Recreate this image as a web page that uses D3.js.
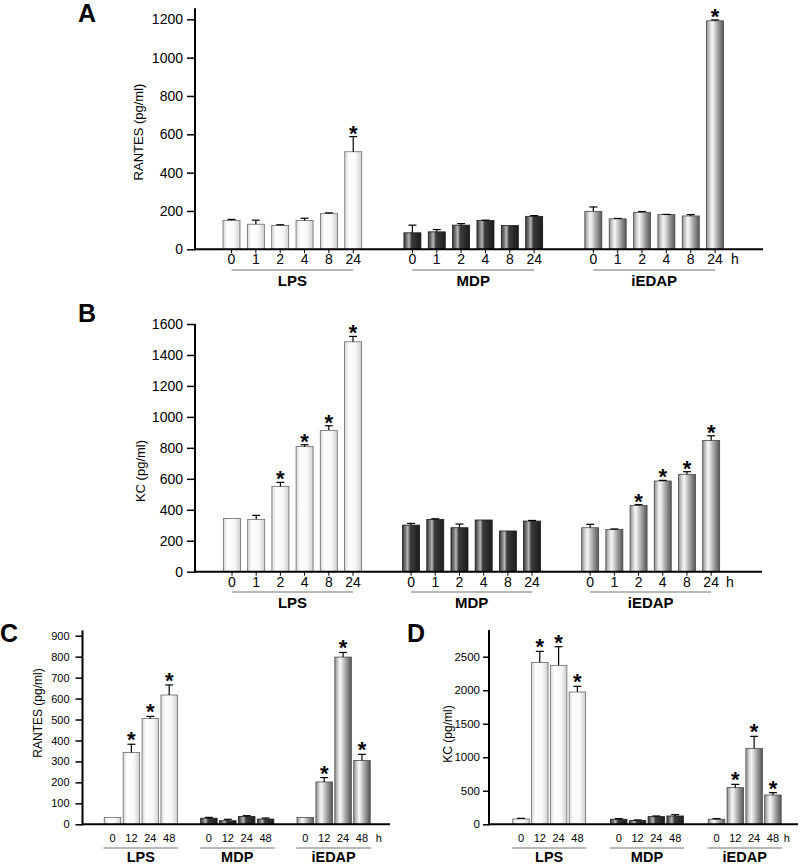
<!DOCTYPE html>
<html><head><meta charset="utf-8">
<script src="https://cdn.jsdelivr.net/npm/d3@7"></script>
<style>
body{margin:0;background:#fff}
svg{display:block}
text{font-family:"Liberation Sans",Arial,Helvetica,sans-serif;fill:#000}
</style>
</head><body>
<svg id="chart" width="800" height="867"></svg>
<script>
// ---------- data ----------
const groups = ["LPS", "MDP", "iEDAP"];
const hoursAB = ["0", "1", "2", "4", "8", "24"];
const hoursCD = ["0", "12", "24", "48"];

// Panel A: RANTES (pg/ml), time course 0-24 h
const rantesA    = [[150, 131, 124, 150, 186, 509], [86, 91, 126, 150, 124, 172], [198, 159, 193, 181, 174, 1192]];
const rantesAErr = [[6, 21, 4, 12, 4, 79], [40, 12, 8, 2, 0, 4], [23, 2, 4, 1, 7, 5]];
const rantesASig = [[0, 0, 0, 0, 0, 1], [0, 0, 0, 0, 0, 0], [0, 0, 0, 0, 0, 1]];
const ticksA = [0, 200, 400, 600, 800, 1000, 1200];

// Panel B: KC (pg/ml), time course 0-24 h
const kcB    = [[344, 338, 551, 809, 913, 1485], [301, 338, 284, 334, 263, 327], [284, 273, 428, 586, 629, 848]];
const kcBErr = [[0, 26, 26, 11, 30, 35], [11, 4, 24, 0, 0, 4], [22, 3, 5, 4, 17, 30]];
const kcBSig = [[0, 0, 1, 1, 1, 1], [0, 0, 0, 0, 0, 0], [0, 0, 1, 1, 1, 1]];
const ticksB = [0, 200, 400, 600, 800, 1000, 1200, 1400, 1600];

// Panel C: RANTES (pg/ml), 0-48 h
const rantesC    = [[33, 343, 505, 617], [29, 17, 37, 25], [32, 202, 798, 304]];
const rantesCErr = [[0, 39, 10, 48], [4, 7, 4, 5], [0, 21, 22, 30]];
const rantesCSig = [[0, 1, 1, 1], [0, 0, 0, 0], [0, 1, 1, 1]];
const ticksC = [0, 100, 200, 300, 400, 500, 600, 700, 800, 900];

// Panel D: KC (pg/ml), 0-48 h
const kcD    = [[80, 2415, 2371, 1973], [75, 55, 114, 124], [75, 547, 1133, 437]];
const kcDErr = [[9, 165, 278, 85], [10, 10, 10, 20], [10, 49, 179, 35]];
const kcDSig = [[0, 1, 1, 1], [0, 0, 0, 0], [0, 1, 1, 1]];
const ticksD = [0, 500, 1000, 1500, 2000, 2500];

// ---------- drawing ----------
const svg = d3.select("#chart");
const defs = svg.append("defs");
function grad(id, stops) {
  const g = defs.append("linearGradient").attr("id", id)
    .attr("x1", "0%").attr("x2", "100%").attr("y1", "0%").attr("y2", "0%");
  stops.forEach(s => g.append("stop").attr("offset", s[0]).attr("stop-color", s[1]));
}
grad("gLPS", [["0%", "#d6d6d6"], ["25%", "#ffffff"], ["65%", "#f8f8f8"], ["100%", "#cfcfcf"]]);
grad("gMDP", [["0%", "#3a3a3a"], ["18%", "#7e7e7e"], ["30%", "#b8b8b8"], ["45%", "#3c3c3c"], ["100%", "#1c1c1c"]]);
grad("gIE",  [["0%", "#8e8e8e"], ["25%", "#e6e6e6"], ["35%", "#f4f4f4"], ["65%", "#a6a6a6"], ["100%", "#555555"]]);
const fills = ["url(#gLPS)", "url(#gMDP)", "url(#gIE)"];
const strokes = ["#6a6a6a", "#1a1a1a", "#4a4a4a"];

function panel(cfg, means, errs, sig, hours, ticks) {
  const g = svg.append("g");
  const x = d3.scaleLinear().domain([0, 1]).range([cfg.x0, cfg.x0 + cfg.step]);
  const slot = (gi, i) => gi * cfg.gStep + i;
  const y = d3.scaleLinear().domain([0, cfg.topVal]).range([cfg.yBase, cfg.yTop]);

  const data = [];
  means.forEach((row, gi) => row.forEach((v, i) => data.push({gi, i, v, e: errs[gi][i], s: sig[gi][i]})));

  // bars
  g.selectAll("rect.bar").data(data).join("rect").attr("class", "bar")
    .attr("x", d => x(slot(d.gi, d.i)) - cfg.barW / 2)
    .attr("y", d => y(d.v))
    .attr("width", cfg.barW)
    .attr("height", d => y(0) - y(d.v))
    .attr("fill", d => fills[d.gi])
    .attr("stroke", d => strokes[d.gi])
    .attr("stroke-width", 0.8);

  // error bars
  const ed = data.filter(d => d.e > 0);
  g.selectAll("line.err").data(ed).join("line").attr("class", "err")
    .attr("x1", d => x(slot(d.gi, d.i))).attr("x2", d => x(slot(d.gi, d.i)))
    .attr("y1", d => y(d.v)).attr("y2", d => y(d.v + d.e))
    .attr("stroke", "#000").attr("stroke-width", 1.2);
  g.selectAll("line.cap").data(ed).join("line").attr("class", "cap")
    .attr("x1", d => x(slot(d.gi, d.i)) - cfg.cap).attr("x2", d => x(slot(d.gi, d.i)) + cfg.cap)
    .attr("y1", d => y(d.v + d.e)).attr("y2", d => y(d.v + d.e))
    .attr("stroke", "#000").attr("stroke-width", 1.2);

  // asterisks
  g.selectAll("text.star").data(data.filter(d => d.s)).join("text").attr("class", "star")
    .attr("x", d => x(slot(d.gi, d.i)))
    .attr("y", d => y(d.v + d.e) + cfg.starOff)
    .attr("text-anchor", "middle")
    .attr("font-size", cfg.starSize).attr("font-weight", "bold")
    .text("*");

  // y axis
  const ax = g.append("g").attr("transform", `translate(${cfg.axisX},0)`)
    .call(d3.axisLeft(y).tickValues(ticks).tickSize(cfg.tickLen).tickPadding(cfg.tickPad).tickFormat(d3.format("d")));
  ax.select(".domain").remove();
  ax.selectAll(".tick line").attr("stroke", "#000").attr("stroke-width", 1.5);
  ax.selectAll(".tick text").attr("font-size", cfg.tickFont).attr("font-family", '"Liberation Sans",Arial,sans-serif').attr("fill", "#000");

  g.append("line").attr("x1", cfg.axisX).attr("x2", cfg.axisX)
    .attr("y1", y(0) + 1).attr("y2", y(cfg.axisTopVal))
    .attr("stroke", "#000").attr("stroke-width", 2);
  g.append("line").attr("x1", cfg.axisX).attr("x2", cfg.axisRight)
    .attr("y1", y(0)).attr("y2", y(0))
    .attr("stroke", "#000").attr("stroke-width", 2);

  // small x ticks
  if (cfg.xTicks) {
    g.selectAll("line.xt").data(data).join("line").attr("class", "xt")
      .attr("x1", d => x(slot(d.gi, d.i))).attr("x2", d => x(slot(d.gi, d.i)))
      .attr("y1", y(0)).attr("y2", y(0) + 4)
      .attr("stroke", "#000").attr("stroke-width", 1);
  }

  // x labels
  g.selectAll("text.xl").data(data).join("text").attr("class", "xl")
    .attr("x", d => x(slot(d.gi, d.i)))
    .attr("y", cfg.labelY)
    .attr("text-anchor", "middle")
    .attr("font-size", cfg.xFont)
    .text(d => hours[d.i]);
  const last = hours.length - 1;
  g.append("text").attr("x", cfg.hX).attr("y", cfg.labelY)
    .attr("text-anchor", "middle").attr("font-size", cfg.xFont).text("h");

  // group underlines + labels
  groups.forEach((name, gi) => {
    const a = x(slot(gi, 0)) - cfg.ulPad, b = x(slot(gi, last)) + cfg.ulPad;
    g.append("line").attr("x1", a).attr("x2", b).attr("y1", cfg.ulY).attr("y2", cfg.ulY)
      .attr("stroke", "#a0a0a0").attr("stroke-width", 1.3);
    g.append("text").attr("x", (a + b) / 2).attr("y", cfg.grpY)
      .attr("text-anchor", "middle").attr("font-size", cfg.grpFont).attr("font-weight", "bold")
      .text(name);
  });

  // y title
  g.append("text").attr("transform", `translate(${cfg.titleX},${cfg.titleY}) rotate(-90)`)
    .attr("text-anchor", "middle").attr("dy", "0.35em")
    .attr("font-size", cfg.titleFont).text(cfg.title);

  // panel letter
  g.append("text").attr("x", cfg.letterX).attr("y", cfg.letterY)
    .attr("font-size", 25).attr("font-weight", "bold").text(cfg.letter);
}

panel({
  letter: "A", letterX: 78, letterY: 22,
  x0: 231.5, step: 24.35, gStep: 7.43, barW: 17, cap: 4,
  yBase: 249.3, yTop: 19.3, topVal: 1200, axisTopVal: 1258,
  axisX: 195, axisRight: 763, tickLen: 8, tickPad: 4, tickFont: 14,
  starOff: 4, starSize: 22, xTicks: true,
  labelY: 263.5, xFont: 14, hX: 735, ulY: 270, ulPad: 0, grpY: 286, grpFont: 15,
  title: "RANTES (pg/ml)", titleX: 138, titleY: 132, titleFont: 13
}, rantesA, rantesAErr, rantesASig, hoursAB, ticksA);

panel({
  letter: "B", letterX: 78, letterY: 322,
  x0: 232, step: 24.2, gStep: 7.4, barW: 17, cap: 4,
  yBase: 571.7, yTop: 324, topVal: 1600, axisTopVal: 1600,
  axisX: 195, axisRight: 762, tickLen: 8, tickPad: 4, tickFont: 14,
  starOff: 4, starSize: 22, xTicks: true,
  labelY: 587, xFont: 14, hX: 730, ulY: 592, ulPad: 0, grpY: 608, grpFont: 15,
  title: "KC (pg/ml)", titleX: 140, titleY: 471, titleFont: 13
}, kcB, kcBErr, kcBSig, hoursAB, ticksB);

panel({
  letter: "C", letterX: 0, letterY: 642,
  x0: 112.5, step: 18.9, gStep: 5.1, barW: 16.5, cap: 4,
  yBase: 824.3, yTop: 635.7, topVal: 900, axisTopVal: 925,
  axisX: 82.5, axisRight: 390, tickLen: 7, tickPad: 6, tickFont: 11,
  starOff: 3, starSize: 22, xTicks: false,
  labelY: 842, xFont: 11, hX: 378.7, ulY: 848, ulPad: 9, grpY: 862, grpFont: 14.5,
  title: "RANTES (pg/ml)", titleX: 37.5, titleY: 713, titleFont: 12
}, rantesC, rantesCErr, rantesCSig, hoursCD, ticksC);

panel({
  letter: "D", letterX: 407, letterY: 642,
  x0: 521, step: 18.8, gStep: 5.2, barW: 16.5, cap: 4,
  yBase: 824.3, yTop: 656.7, topVal: 2500, axisTopVal: 2900,
  axisX: 489, axisRight: 798, tickLen: 6, tickPad: 3, tickFont: 11.5,
  starOff: 3, starSize: 22, xTicks: false,
  labelY: 842, xFont: 11, hX: 786.7, ulY: 848, ulPad: 9, grpY: 862, grpFont: 14.5,
  title: "KC (pg/ml)", titleX: 448, titleY: 734, titleFont: 12
}, kcD, kcDErr, kcDSig, hoursCD, ticksD);
</script>
</body></html>
